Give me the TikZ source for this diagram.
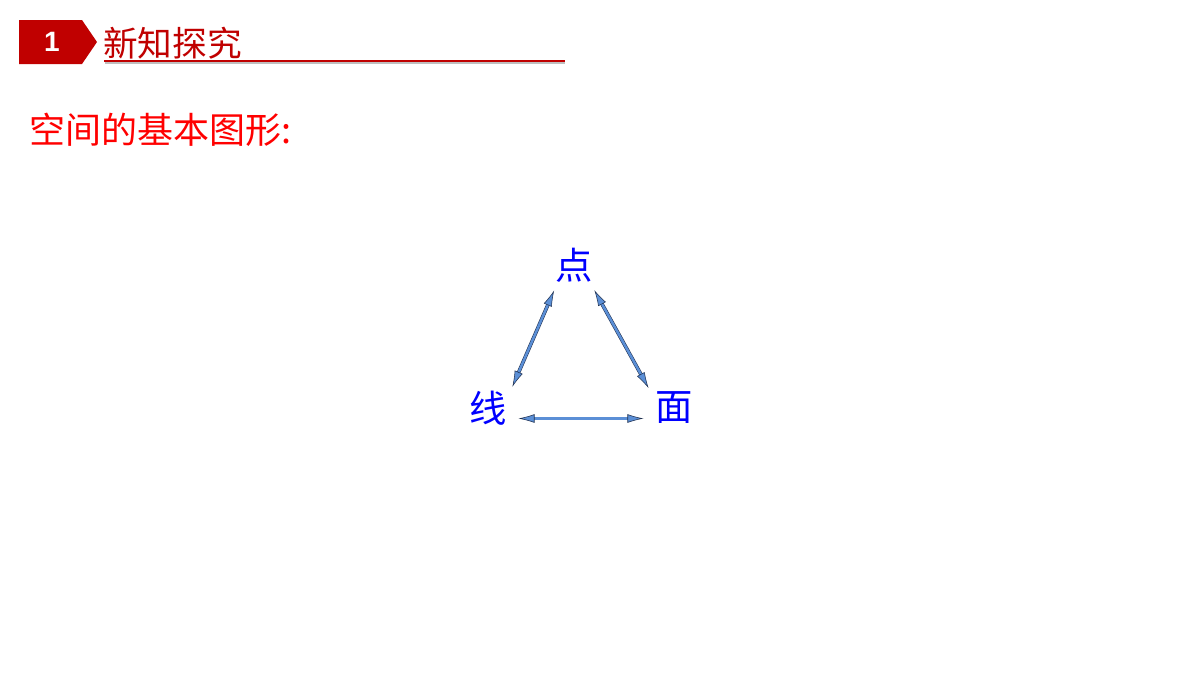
\documentclass[tikz,border=0pt]{standalone}
\usepackage{fontspec}
\usepackage{tikz}
\usetikzlibrary{arrows.meta}
\newfontfamily\cjk{Noto Sans CJK SC}
\newfontfamily\arialfont{Liberation Sans}
\definecolor{badgered}{HTML}{C00000}
\definecolor{subred}{HTML}{FF0000}
\definecolor{shapeblue}{HTML}{0000FF}
\definecolor{arrowblue}{HTML}{5B8FD6}
\definecolor{arrowedge}{HTML}{1F3050}

\begin{document}
\begin{tikzpicture} [x=0.75pt, y=-0.75pt,
  basicnode/.style={circle, inner sep=0pt, minimum size=64*0.75pt, text=shapeblue, font=\cjk\fontsize{28}{28}\selectfont},
  dblarrow/.style={draw=arrowedge, line width=0.4pt, double=arrowblue, double distance=1.9pt,
    {Latex[length=12pt,width=6.5pt,fill=arrowblue]}-{Latex[length=12pt,width=6.5pt,fill=arrowblue]}}]

\useasboundingbox [fill=white] (0,0) rectangle (1200,675);

\fill [badgered] (19,20) -- (82,20) -- (97,42) -- (82,64) -- (19,64) -- cycle;
\node [text=white, font=\arialfont\bfseries\fontsize{21}{21}\selectfont] (num) at (52,42) {1};
\node [anchor=west, inner sep=0pt, text=badgered, font=\cjk\fontsize{26}{26}\selectfont] (title) at (103,43) {新知探究};
\draw [black!25, line width=2.2pt] (105,62.5) -- (565,62.5);
\draw [badgered, line width=2.2pt] (104,61) -- (565,61);

\node [anchor=west, inner sep=0pt, text=subred, font=\cjk\fontsize{27}{27}\selectfont] (sub) at (29,130) {空间的基本图形:};

\node [basicnode] (dian) at (574,265) {点};
\node [basicnode] (xian) at (488,408) {线};
\node [basicnode] (mian) at (674,408) {面};

\draw [dblarrow] (dian.232) -- (xian.41);
\draw [dblarrow] (dian.-51) -- (mian.142);
\draw [dblarrow] (xian.-19) -- (mian.199);

\end{tikzpicture}
\end{document}
